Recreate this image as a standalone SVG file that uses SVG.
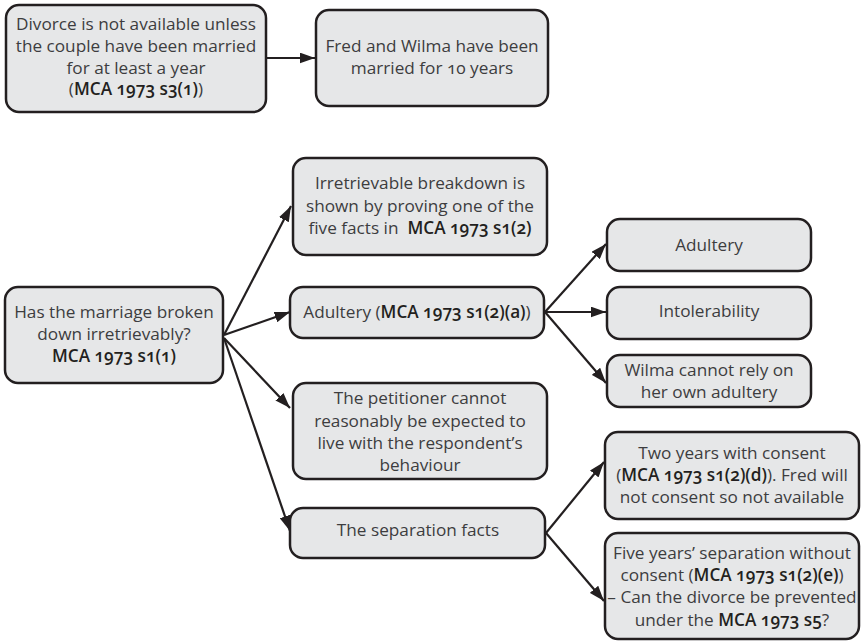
<svg xmlns="http://www.w3.org/2000/svg" width="861" height="642" viewBox="0 0 861 642">
  <style>
    .box { fill: #e6e7e8; stroke: #231f20; stroke-width: 2.5; }
    .t { font-family: "Open Sans", "Noto Sans", "Liberation Sans", sans-serif; font-size: 17.2px; fill: #3d3d3f; text-anchor: middle; font-variant-numeric: oldstyle-nums; }
    .b { font-weight: 600; fill: #231f20; }
    .edge { stroke: #231f20; stroke-width: 2.2; fill: none; marker-end: url(#arrow); }
  </style>
  <defs>
    <marker id="arrow" viewBox="0 0 14 10" refX="14" refY="5" markerWidth="7" markerHeight="5" orient="auto" markerUnits="strokeWidth">
      <path d="M0,0 L14,5 L0,10 z" fill="#231f20"/>
    </marker>
  </defs>

  <rect width="861" height="642" fill="#ffffff"/>

  <g id="connectors">
    <line class="edge" x1="266" y1="58" x2="315" y2="58"/>
    <line class="edge" x1="224" y1="335" x2="291" y2="206"/>
    <line class="edge" x1="224" y1="335" x2="290" y2="312"/>
    <line class="edge" x1="224" y1="338" x2="290" y2="408"/>
    <line class="edge" x1="224" y1="338" x2="290" y2="531"/>
    <line class="edge" x1="545" y1="312" x2="606" y2="244"/>
    <line class="edge" x1="545" y1="312" x2="606" y2="312"/>
    <line class="edge" x1="545" y1="312" x2="606" y2="383"/>
    <line class="edge" x1="546" y1="533" x2="604" y2="462"/>
    <line class="edge" x1="546" y1="533" x2="604" y2="601"/>
  </g>

  <g id="n-min-duration">
    <rect class="box" x="6" y="5" width="260" height="107" rx="13"/>
    <text class="t" x="136" y="30">Divorce is not available unless</text>
    <text class="t" x="136" y="52">the couple have been married</text>
    <text class="t" x="136" y="74">for at least a year</text>
    <text class="t" x="136" y="95">(<tspan class="b">MCA 1973 s3(1)</tspan>)</text>
  </g>

  <g id="n-ten-years">
    <rect class="box" x="316" y="10" width="232" height="96" rx="13"/>
    <text class="t" x="432" y="52">Fred and Wilma have been</text>
    <text class="t" x="432" y="74">married for 10 years</text>
  </g>

  <g id="n-breakdown">
    <rect class="box" x="5" y="287" width="218" height="96" rx="13"/>
    <text class="t" x="114" y="318">Has the marriage broken</text>
    <text class="t" x="114" y="340">down irretrievably?</text>
    <text class="t b" x="114" y="362">MCA 1973 s1(1)</text>
  </g>

  <g id="n-five-facts">
    <rect class="box" x="293" y="158" width="254" height="97" rx="13"/>
    <text class="t" x="420" y="189">Irretrievable breakdown is</text>
    <text class="t" x="420" y="212">shown by proving one of the</text>
    <text class="t" x="420" y="234">five facts in&#160; <tspan class="b">MCA 1973 s1(2)</tspan></text>
  </g>

  <g id="n-adultery-fact">
    <rect class="box" x="290" y="287" width="254" height="51" rx="13"/>
    <text class="t" x="417" y="318">Adultery (<tspan class="b">MCA 1973 s1(2)(a)</tspan>)</text>
  </g>

  <g id="n-behaviour">
    <rect class="box" x="293" y="383" width="254" height="96" rx="13"/>
    <text class="t" x="420" y="404">The petitioner cannot</text>
    <text class="t" x="420" y="427">reasonably be expected to</text>
    <text class="t" x="420" y="449">live with the respondent’s</text>
    <text class="t" x="420" y="471">behaviour</text>
  </g>

  <g id="n-separation">
    <rect class="box" x="290" y="508" width="255" height="50" rx="13"/>
    <text class="t" x="418" y="536">The separation facts</text>
  </g>

  <g id="n-adultery">
    <rect class="box" x="607" y="219" width="204" height="52" rx="13"/>
    <text class="t" x="709" y="251">Adultery</text>
  </g>

  <g id="n-intolerability">
    <rect class="box" x="607" y="287" width="204" height="52" rx="13"/>
    <text class="t" x="709" y="317">Intolerability</text>
  </g>

  <g id="n-own-adultery">
    <rect class="box" x="607" y="355" width="204" height="52" rx="13"/>
    <text class="t" x="709" y="376">Wilma cannot rely on</text>
    <text class="t" x="709" y="398">her own adultery</text>
  </g>

  <g id="n-two-years">
    <rect class="box" x="605" y="432" width="254" height="87" rx="13"/>
    <text class="t" x="732" y="459">Two years with consent</text>
    <text class="t" x="732" y="481">(<tspan class="b">MCA 1973 s1(2)(d)</tspan>). Fred will</text>
    <text class="t" x="732" y="503">not consent so not available</text>
  </g>

  <g id="n-five-years">
    <rect class="box" x="605" y="533" width="254" height="106" rx="13"/>
    <text class="t" x="732" y="559">Five years’ separation without</text>
    <text class="t" x="732" y="581">consent (<tspan class="b">MCA 1973 s1(2)(e)</tspan>)</text>
    <text class="t" x="732" y="603">– Can the divorce be prevented</text>
    <text class="t" x="732" y="626">under the <tspan class="b">MCA 1973 s5</tspan>?</text>
  </g>
</svg>
